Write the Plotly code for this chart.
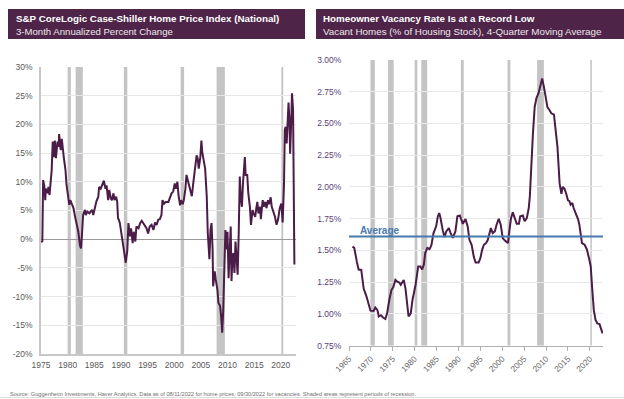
import plotly.graph_objects as go

# ---------------- data ----------------
hp_years = [1975.0, 1975.25, 1975.4, 1975.6, 1975.8, 1975.9, 1976.2, 1976.4, 1976.6, 1976.8,
            1977.0, 1977.2, 1977.4, 1977.6, 1977.8, 1978.1, 1978.3, 1978.4, 1978.7, 1978.9,
            1979.1, 1979.3, 1979.6, 1979.8, 1980.1, 1980.3, 1980.5, 1980.8, 1981.1, 1981.4,
            1981.7, 1982.0, 1982.3, 1982.5, 1982.7, 1982.9, 1983.25, 1983.4, 1983.7, 1984.1,
            1984.3, 1984.6, 1984.8, 1985.1, 1985.4, 1985.75, 1985.9, 1986.2, 1986.6, 1986.8,
            1987.1, 1987.3, 1987.6, 1987.8, 1988.1, 1988.3, 1988.6, 1988.8, 1989.1, 1989.3,
            1989.45, 1989.6, 1989.8, 1990.1, 1990.4, 1990.75, 1990.9, 1991.2, 1991.4, 1991.7,
            1991.9, 1992.2, 1992.4, 1992.7, 1992.9, 1993.3, 1993.6, 1993.9, 1994.2, 1994.5,
            1994.8, 1995.1, 1995.4, 1995.75, 1996.1, 1996.4, 1996.7, 1997.0, 1997.3, 1997.6,
            1997.8, 1998.1, 1998.4, 1998.9, 1999.2, 1999.5, 1999.8, 2000.1, 2000.3, 2000.6,
            2000.8, 2001.1, 2001.3, 2001.6, 2001.8, 2002.1, 2002.3, 2002.6, 2002.8, 2003.1,
            2003.3, 2003.6, 2003.9, 2004.2, 2004.4, 2004.6, 2004.9, 2005.1, 2005.25, 2005.5,
            2005.8, 2006.1, 2006.3, 2006.6, 2006.8, 2007.0, 2007.2, 2007.3, 2007.6, 2007.8,
            2008.1, 2008.3, 2008.6, 2008.8, 2009.0, 2009.2, 2009.4, 2009.6, 2009.8, 2010.0,
            2010.2, 2010.4, 2010.6, 2010.75, 2010.9, 2011.1, 2011.3, 2011.5, 2011.7, 2011.9,
            2012.1, 2012.3, 2012.5, 2012.7, 2012.9, 2013.25, 2013.4, 2013.7, 2013.9, 2014.2,
            2014.4, 2014.7, 2014.9, 2015.2, 2015.4, 2015.6, 2015.8, 2016.1, 2016.25, 2016.6,
            2016.8, 2017.1, 2017.3, 2017.6, 2017.8, 2018.1, 2018.3, 2018.6, 2018.9, 2019.2,
            2019.5, 2019.8, 2020.1, 2020.35, 2020.6, 2020.75, 2020.9, 2021.1, 2021.3, 2021.45,
            2021.6, 2021.75, 2022.0, 2022.1, 2022.3, 2022.4, 2022.55]
hp_values = [-0.3, -0.5, 10.3, 9.4, 6.8, 8.8, 8.0, 9.1, 7.7, 9.4,
             12.0, 17.0, 14.3, 17.2, 14.1, 17.0, 16.1, 18.3, 15.5, 17.5,
             14.9, 14.1, 12.0, 9.4, 7.4, 6.0, 6.8, 6.2, 5.4, 3.9,
             2.5, 1.3, -1.0, -1.6, 1.0, 4.2, 5.1, 4.2, 4.8, 4.5,
             4.8, 5.1, 4.2, 5.7, 6.6, 7.4, 9.1, 8.8, 9.7, 10.2,
             8.8, 9.4, 6.8, 8.6, 7.1, 6.8, 8.0, 6.8, 7.4, 6.5,
             3.65, 3.4, 2.8, 1.0, -1.3, -3.0, -4.1, -1.9, 2.8, 0.5,
             1.9, -0.7, 1.3, -0.4, 2.2, 1.9, 2.8, 3.2, 2.8, 2.5,
             1.9, 1.0, 2.2, 2.5, 1.6, 2.9, 2.5, 3.4, 3.5, 4.2,
             6.8, 6.2, 6.5, 6.5, 7.4, 8.0, 8.3, 9.7, 8.8, 10.0,
             7.7, 5.9, 6.8, 6.1, 6.8, 8.8, 11.2, 10.0, 9.1, 8.3,
             7.5, 10.0, 12.0, 14.6, 14.1, 12.3, 14.3, 17.2, 15.2, 13.5,
             12.3, 7.5, 1.0, -3.5, 1.6, 2.8, -1.8, -8.2, -5.6, -7.1,
             -8.8, -11.1, -11.6, -13.4, -16.3, -12.3, -6.5, 1.6, -1.8, 1.3,
             -6.8, -1.6, 2.2, -7.3, -3.6, -2.4, -5.9, -0.4, -3.6, -6.2,
             1.0, 10.9, 7.1, 5.65, 9.7, 14.3, 11.2, 11.2, 8.0, 5.65,
             2.5, 5.1, 4.5, 3.9, 5.4, 6.5, 4.5, 5.65, 3.5, 6.8,
             5.65, 6.5, 5.4, 6.8, 6.1, 7.3, 5.65, 4.8, 3.9, 2.5,
             3.5, 5.4, 6.2, 2.9, 9.7, 19.0, 19.6, 16.7, 19.6, 23.8,
             21.0, 14.9, 21.9, 25.4, 22.5, 13.8, -4.4]

vac_years = [1965.8, 1966.2, 1966.8, 1967.2, 1967.8, 1968.35, 1969.0, 1969.5, 1969.9, 1970.6,
             1971.0, 1971.5, 1971.8, 1972.3, 1972.7, 1973.3, 1973.7, 1974.2, 1974.7, 1975.1,
             1975.6, 1976.0, 1976.5, 1976.8, 1977.1, 1977.5, 1977.9, 1978.3, 1978.6, 1979.1,
             1979.5, 1980.2, 1980.8, 1981.3, 1981.7, 1982.1, 1982.4, 1982.9, 1983.4, 1983.8,
             1984.3, 1984.9, 1985.3, 1985.6, 1985.9, 1986.4, 1986.8, 1987.2, 1987.8, 1988.2,
             1988.7, 1989.3, 1989.75, 1990.3, 1990.7, 1991.0, 1991.6, 1992.1, 1992.5, 1993.0,
             1993.5, 1993.9, 1994.6, 1995.0, 1995.4, 1995.8, 1996.3, 1996.7, 1997.1, 1997.4,
             1997.8, 1998.3, 1998.7, 1999.2, 1999.65, 2000.1, 2000.6, 2001.1, 2001.3, 2001.6,
             2002.0, 2002.4, 2002.85, 2003.3, 2003.8, 2004.1, 2004.7, 2005.1, 2005.6, 2006.05,
             2006.3, 2006.6, 2007.0, 2007.4, 2007.8, 2008.3, 2008.8, 2009.1, 2009.5, 2009.9,
             2010.3, 2010.8, 2011.2, 2011.8, 2012.1, 2012.6, 2013.1, 2013.5, 2013.8, 2014.2,
             2014.6, 2015.0, 2015.3, 2015.6, 2016.0, 2016.3, 2016.9, 2017.3, 2017.6, 2017.9,
             2018.2, 2018.8, 2019.3, 2019.8, 2020.2, 2020.5, 2020.9, 2021.3, 2021.7, 2022.2,
             2022.6, 2022.9]
vac_values = [1.53, 1.52, 1.41, 1.35, 1.347, 1.20, 1.137, 1.084, 1.026, 1.024,
              1.05, 1.03, 0.98, 0.99, 0.974, 0.96, 1.005, 1.11, 1.19, 1.21,
              1.268, 1.255, 1.247, 1.23, 1.247, 1.268, 1.20, 1.058, 0.98, 1.005,
              1.11, 1.23, 1.374, 1.374, 1.35, 1.39, 1.48, 1.52, 1.51, 1.54,
              1.637, 1.69, 1.77, 1.795, 1.755, 1.66, 1.605, 1.65, 1.676, 1.637,
              1.60, 1.65, 1.77, 1.776, 1.73, 1.71, 1.747, 1.69, 1.584, 1.545,
              1.45, 1.405, 1.405, 1.44, 1.505, 1.545, 1.558, 1.584, 1.637, 1.676,
              1.637, 1.65, 1.703, 1.75, 1.703, 1.597, 1.579, 1.563, 1.558, 1.65,
              1.755, 1.80, 1.747, 1.71, 1.71, 1.77, 1.776, 1.73, 1.755, 1.834,
              1.93, 2.16, 2.42, 2.63, 2.70, 2.74, 2.816, 2.855, 2.79, 2.71,
              2.63, 2.605, 2.58, 2.57, 2.47, 2.316, 2.026, 1.947, 2.00, 1.987,
              1.947, 1.895, 1.89, 1.86, 1.874, 1.834, 1.78, 1.747, 1.703, 1.637,
              1.558, 1.545, 1.51, 1.44, 1.374, 1.216, 1.03, 0.953, 0.926, 0.92,
              0.874, 0.847]

vac_average = 1.61

rec_start = [1969.9, 1973.9, 1980.0, 1981.5, 1990.55, 2001.2, 2007.95, 2020.1]
rec_end = [1970.9, 1975.2, 1980.6, 1982.85, 1991.2, 2001.85, 2009.5, 2020.45]

hp_tickvals = [-20, -15, -10, -5, 0, 5, 10, 15, 20, 25, 30]
hp_ticktext = ["-20%", "-15%", "-10%", "-5%", "0%", "5%", "10%", "15%", "20%", "25%", "30%"]
hp_xticks = [1975, 1980, 1985, 1990, 1995, 2000, 2005, 2010, 2015, 2020]

vac_tickvals = [0.75, 1.00, 1.25, 1.50, 1.75, 2.00, 2.25, 2.50, 2.75, 3.00]
vac_ticktext = ["0.75%", "1.00%", "1.25%", "1.50%", "1.75%", "2.00%", "2.25%", "2.50%", "2.75%", "3.00%"]
vac_xticks = [1965, 1970, 1975, 1980, 1985, 1990, 1995, 2000, 2005, 2010, 2015, 2020]

# ---------------- styling ----------------
W, H = 624, 399
PURPLE = "#4e2548"
LINE = "#4b1c47"
BAND = "#c4c4c4"
FONT = "Liberation Sans, Arial, sans-serif"
CLEAR = "rgba(0,0,0,0)"


def px_x(p):
    return p / W


def px_y(p):
    return 1 - p / H


fig = go.Figure()

fig.add_trace(go.Scatter(x=hp_years, y=hp_values, mode="lines",
                         line=dict(color=LINE, width=2), xaxis="x", yaxis="y",
                         showlegend=False, hoverinfo="skip"))
fig.add_trace(go.Scatter(x=vac_years, y=vac_values, mode="lines",
                         line=dict(color=LINE, width=2), xaxis="x2", yaxis="y2",
                         showlegend=False, hoverinfo="skip"))
fig.add_trace(go.Scatter(x=[1965, 2023], y=[vac_average, vac_average], mode="lines",
                         line=dict(color="#4a79ad", width=2), xaxis="x2", yaxis="y2",
                         showlegend=False, hoverinfo="skip"))

shapes = []
for s, e in zip(rec_start, rec_end):
    if s >= 1975:
        shapes.append(dict(type="rect", xref="x", yref="y", x0=s, x1=e, y0=-20, y1=30,
                           fillcolor=BAND, line=dict(width=0), layer="below"))
    shapes.append(dict(type="rect", xref="x2", yref="y2", x0=s, x1=e, y0=0.75, y1=3.0,
                       fillcolor=BAND, line=dict(width=0), layer="below"))

# title boxes
shapes.append(dict(type="rect", xref="paper", yref="paper", x0=px_x(8), x1=px_x(305),
                   y0=px_y(39), y1=px_y(9), fillcolor=PURPLE, line=dict(width=0), layer="below"))
shapes.append(dict(type="rect", xref="paper", yref="paper", x0=px_x(316), x1=px_x(624),
                   y0=px_y(39), y1=px_y(9), fillcolor=PURPLE, line=dict(width=0), layer="below"))
# bottom rule
shapes.append(dict(type="line", xref="paper", yref="paper", x0=0, x1=1,
                   y0=px_y(397.5), y1=px_y(397.5), line=dict(color="#dddddd", width=1)))

annotations = [
    dict(text="<b>S&P CoreLogic Case-Shiller Home Price Index (National)</b>", xref="paper", yref="paper",
         x=px_x(14), y=px_y(18), xanchor="left", yanchor="middle", showarrow=False,
         font=dict(family=FONT, size=9.8, color="white")),
    dict(text="3-Month Annualized Percent Change", xref="paper", yref="paper",
         x=px_x(14), y=px_y(31), xanchor="left", yanchor="middle", showarrow=False,
         font=dict(family=FONT, size=9.6, color="#eee6ee")),
    dict(text="<b>Homeowner Vacancy Rate Is at a Record Low</b>", xref="paper", yref="paper",
         x=px_x(321), y=px_y(18), xanchor="left", yanchor="middle", showarrow=False,
         font=dict(family=FONT, size=9.8, color="white")),
    dict(text="Vacant Homes (% of Housing Stock), 4-Quarter Moving Average", xref="paper", yref="paper",
         x=px_x(321), y=px_y(31), xanchor="left", yanchor="middle", showarrow=False,
         font=dict(family=FONT, size=9.8, color="#eee6ee")),
    dict(text="<b>Average</b>", xref="x2", yref="y2", x=1967.1, y=vac_average,
         xanchor="left", yanchor="bottom", yshift=-1, showarrow=False,
         font=dict(family=FONT, size=10, color="#4a79ad")),
    dict(text="Source: Guggenheim Investments, Haver Analytics. Data as of 08/11/2022 for home prices, "
              "09/30/2022 for vacancies. Shaded areas represent periods of recession.",
         xref="paper", yref="paper", x=px_x(8), y=px_y(394), xanchor="left", yanchor="middle",
         showarrow=False, font=dict(family=FONT, size=5.6, color="#6e6e6e")),
]

fig.update_layout(
    width=W, height=H, autosize=False,
    margin=dict(l=0, r=0, t=0, b=0, pad=0, autoexpand=False),
    paper_bgcolor="white", plot_bgcolor="rgba(0,0,0,0)",
    font=dict(family=FONT),
    shapes=shapes, annotations=annotations,
    xaxis=dict(domain=[px_x(41), px_x(296)], range=[1975, 2022.85], tickvals=hp_xticks,
               showgrid=False, zeroline=False, showline=True, linecolor="#c8c8c8", linewidth=1.5,
               ticks="outside", ticklen=2, tickcolor=CLEAR,
               tickfont=dict(size=8.5, color="#595959"), anchor="y", fixedrange=True,
               automargin=False),
    yaxis=dict(domain=[px_y(354), px_y(67)], range=[-20, 30], tickvals=hp_tickvals,
               ticktext=hp_ticktext, showgrid=True, gridcolor="#e6e6e6", gridwidth=1,
               zeroline=True, zerolinecolor="#9a9a9a", zerolinewidth=1,
               showline=True, linecolor="#c8c8c8", linewidth=1.5,
               ticks="outside", ticklen=5, tickcolor=CLEAR,
               tickfont=dict(size=8.5, color="#595959"), anchor="x", fixedrange=True,
               automargin=False),
    xaxis2=dict(domain=[px_x(349), px_x(603)], range=[1965, 2023], tickvals=vac_xticks,
                tickangle=-45, showgrid=False, zeroline=False, showline=True, linecolor="#b0b0b0",
                linewidth=1, ticks="outside", ticklen=4, tickcolor="#b0b0b0",
                tickfont=dict(size=8.3, color="#6a6a6a"), anchor="y2", fixedrange=True,
                automargin=False),
    yaxis2=dict(domain=[px_y(345.7), px_y(60)], range=[0.75, 3.0], tickvals=vac_tickvals,
                ticktext=vac_ticktext, showgrid=True, gridcolor="#e8e8e8", gridwidth=1,
                zeroline=False, showline=False, ticks="outside", ticklen=5, tickcolor=CLEAR,
                tickfont=dict(size=8.5, color="#5c3f78"), anchor="x2", fixedrange=True,
                automargin=False),
)

fig.write_html("out.html", config={"displayModeBar": False},
               post_script="document.body.style.margin='0';document.body.style.overflow='hidden';")
